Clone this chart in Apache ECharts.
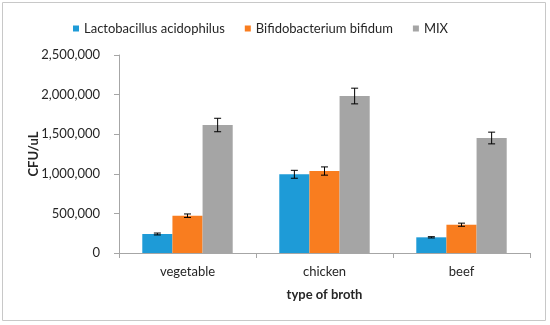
<!DOCTYPE html>
<html>
<head>
<meta charset="utf-8">
<script src="https://cdn.jsdelivr.net/npm/echarts@6/dist/echarts.min.js"></script>
<style>html,body{margin:0;padding:0;background:#fff}#c{width:550px;height:325px}</style>
</head>
<body>
<div id="c"></div>
<script>
const categories = ['vegetable', 'chicken', 'beef'];
const seriesNames = ['Lactobacillus acidophilus', 'Bifidobacterium bifidum', 'MIX'];
const lactoValues = [240000, 994000, 198000];
const bifidoValues = [471000, 1035000, 357000];
const mixValues = [1616000, 1982000, 1452000];
const lactoErrors = [12000, 50000, 8000];
const bifidoErrors = [22000, 52000, 20000];
const mixErrors = [85000, 99000, 74000];
const yTicks = [0, 500000, 1000000, 1500000, 2000000, 2500000];
const colors = ['#1E9BD7', '#F97D1F', '#A5A5A5'];

const FONT = 'Lato';
const allValues = [lactoValues, bifidoValues, mixValues];
const allErrors = [lactoErrors, bifidoErrors, mixErrors];
const CAT_GAP = 0.34;

const barSeries = seriesNames.map((name, i) => ({
  name: name,
  type: 'bar',
  data: allValues[i],
  barGap: '0%',
  barCategoryGap: (CAT_GAP * 100) + '%',
  itemStyle: { color: colors[i] },
  emphasis: { disabled: true }
}));

const errSeries = seriesNames.map((name, i) => ({
  type: 'custom',
  z: 10,
  silent: true,
  data: categories.map((c, k) => [k, allValues[i][k] - allErrors[i][k], allValues[i][k] + allErrors[i][k]]),
  encode: { x: 0, y: [1, 2] },
  renderItem: function (params, api) {
    const k = api.value(0);
    const lo = api.coord([k, api.value(1)]);
    const hi = api.coord([k, api.value(2)]);
    const band = api.size([1, 0])[0];
    const barW = band * (1 - CAT_GAP) / 3;
    const x = lo[0] + (i - 1) * barW;
    const cap = 3.5;
    const st = { stroke: '#000', lineWidth: 1 };
    return {
      type: 'group',
      children: [
        { type: 'line', shape: { x1: x, y1: lo[1], x2: x, y2: hi[1] }, style: st },
        { type: 'line', shape: { x1: x - cap, y1: lo[1], x2: x + cap, y2: lo[1] }, style: st },
        { type: 'line', shape: { x1: x - cap, y1: hi[1], x2: x + cap, y2: hi[1] }, style: st }
      ]
    };
  }
}));

const chart = echarts.init(document.getElementById('c'), null, { renderer: 'canvas' });
chart.setOption({
  animation: false,
  textStyle: { fontFamily: FONT },
  graphic: [{
    type: 'rect', shape: { x: 2.5, y: 2.5, width: 543, height: 318 },
    style: { fill: 'none', stroke: '#c8c8c8', lineWidth: 1 }, silent: true
  }],
  legend: {
    data: seriesNames,
    top: 17,
    left: 68,
    icon: 'rect',
    itemWidth: 6,
    itemHeight: 6,
    itemGap: 20,
    textStyle: { fontFamily: FONT, fontSize: 13, color: '#262626', padding: [0, 0, 0, 0] }
  },
  grid: { left: 119, right: 20, top: 55, bottom: 72 },
  xAxis: {
    type: 'category',
    data: categories,
    name: 'type of broth',
    nameLocation: 'middle',
    nameGap: 35,
    nameMoveOverlap: false,
    nameTextStyle: { fontFamily: FONT, fontSize: 13, fontWeight: 'bold', color: '#262626' },
    axisLine: { lineStyle: { color: '#a6a6a6' } },
    axisTick: { show: true, length: 5, lineStyle: { color: '#a6a6a6' } },
    axisLabel: { fontFamily: FONT, fontSize: 13, color: '#262626', margin: 12 }
  },
  yAxis: {
    type: 'value',
    min: yTicks[0],
    max: yTicks[yTicks.length - 1],
    interval: yTicks[1] - yTicks[0],
    name: 'CFU/uL',
    nameLocation: 'middle',
    nameGap: 79,
    nameMoveOverlap: false,
    nameTextStyle: { fontFamily: FONT, fontSize: 13, fontWeight: 'bold', color: '#262626' },
    splitLine: { show: false },
    axisLine: { show: true, lineStyle: { color: '#a6a6a6' } },
    axisTick: { show: true, length: 5, lineStyle: { color: '#a6a6a6' } },
    axisLabel: {
      fontFamily: FONT, fontSize: 13, color: '#262626', margin: 19,
      formatter: v => v.toLocaleString('en-US')
    }
  },
  series: barSeries.concat(errSeries)
});
</script>
</body>
</html>
